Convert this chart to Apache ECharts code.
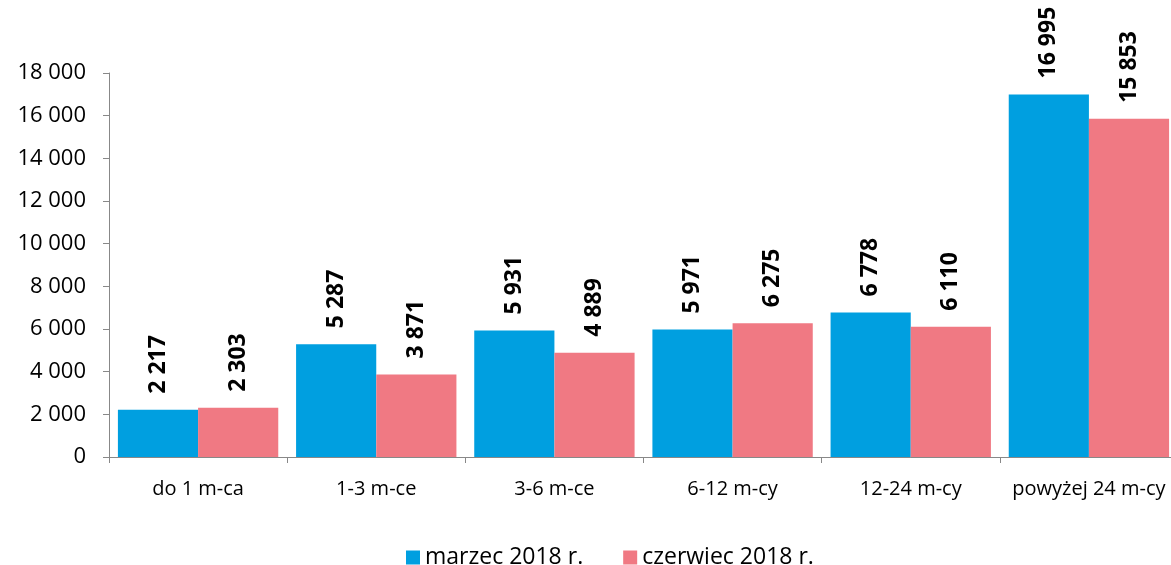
<!DOCTYPE html>
<html><head><meta charset="utf-8">
<script src="https://cdn.jsdelivr.net/npm/echarts@6/dist/echarts.min.js"></script>
<style>html,body{margin:0;padding:0;background:#fff;overflow:hidden}#c{width:1180px;height:565px}</style>
</head><body><div id="c"></div>
<script>
const categories = ['do 1 m-ca','1-3 m-ce','3-6 m-ce','6-12 m-cy','12-24 m-cy','powyżej 24 m-cy'];
const marzec = [2217, 5287, 5931, 5971, 6778, 16995];
const czerwiec = [2303, 3871, 4889, 6275, 6110, 15853];
const seriesNames = ['marzec 2018 r.', 'czerwiec 2018 r.'];
const FONT = 'Open Sans';
function fmt(v){ return String(v).replace(/\B(?=(\d{3})+(?!\d))/g,' '); }
const chart = echarts.init(document.getElementById('c'));
const lbl = {show:true, position:'top', rotate:90, align:'left', verticalAlign:'middle', distance:16,
  fontFamily:FONT, fontWeight:'bold', fontSize:23, color:'#000', formatter:p=>fmt(p.value)};
chart.setOption({
  animation:false,
  textStyle:{fontFamily:FONT},
  grid:{left:109, top:73, width:1069, height:384, containLabel:false},
  legend:{top:541, left:401, itemWidth:14, itemHeight:14, itemGap:40, icon:'rect',
    textStyle:{fontFamily:FONT, fontSize:23, color:'#000'}, data:seriesNames},
  xAxis:{type:'category', data:categories,
    axisLine:{lineStyle:{color:'#888'}},
    axisTick:{show:true, length:6, lineStyle:{color:'#888'}},
    axisLabel:{fontFamily:FONT, fontSize:20, color:'#000', margin:22, interval:0}},
  yAxis:{type:'value', min:0, max:18000, interval:2000,
    splitLine:{show:false},
    axisLine:{show:true, lineStyle:{color:'#888'}},
    axisTick:{show:true, length:6, lineStyle:{color:'#888'}},
    axisLabel:{fontFamily:FONT, fontSize:22, color:'#000', margin:23, formatter:v=>fmt(v)}},
  series:[
    {name:seriesNames[0], type:'bar', data:marzec, barGap:'0%', barCategoryGap:'10%',
     itemStyle:{color:'#009fe0'}, label:lbl},
    {name:seriesNames[1], type:'bar', data:czerwiec, barGap:'0%', barCategoryGap:'10%',
     itemStyle:{color:'#f07983'}, label:lbl}
  ]
});
</script></body></html>
